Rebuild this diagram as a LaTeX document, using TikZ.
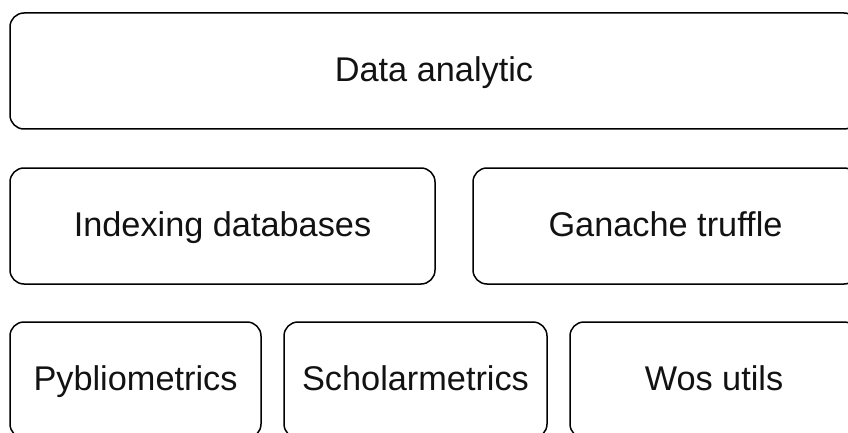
\documentclass[tikz,border=0pt]{standalone}
\usepackage{fontspec}
\setmainfont[Ligatures=NoCommon]{Liberation Sans}
\begin{document}
\begin{tikzpicture}[x=1pt,y=-1pt,
  block/.style={draw=black, line width=1.5pt, rounded corners=14pt,
    inner sep=0pt, outer sep=0pt, minimum height=116pt,
    text height=21.5pt, text depth=0pt,
    font=\fontsize{34.3}{40}\selectfont, text=black!93}]
  \useasboundingbox (0,0) rectangle (848,433);
  \clip (0,0) rectangle (848,433);
  % top layer
  \node[block, minimum width=848pt] (analytic) at (434,71) {Data analytic};
  % middle layer
  \node[block, minimum width=425pt] (indexing) at (222.5,226) {Indexing databases};
  \node[block, minimum width=385pt] (ganache) at (665.5,226) {Ganache truffle};
  % bottom layer
  \node[block, minimum width=251pt] (pyblio) at (135.5,380) {Pybliometrics};
  \node[block, minimum width=263pt] (scholar) at (415.5,380) {Scholarmetrics};
  \node[block, minimum width=288pt] (wos) at (714,380) {Wos utils};
\end{tikzpicture}
\end{document}
